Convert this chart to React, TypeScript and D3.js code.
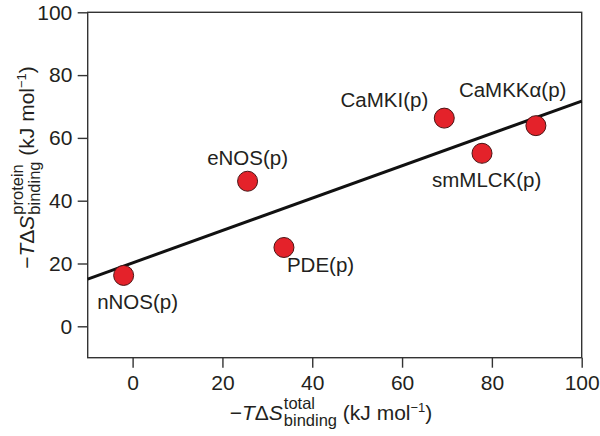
import React, { useEffect, useRef } from "react";
import * as d3 from "d3";

// ---- data ----
const compounds = ["nNOS(p)", "eNOS(p)", "PDE(p)", "CaMKI(p)", "smMLCK(p)", "CaMKK\u03b1(p)"];
const totalEntropy = [-2, 25.6, 33.7, 69.4, 77.8, 89.8];
const proteinEntropy = [16.2, 46.2, 25.1, 66.3, 55.1, 63.9];
const xTicks = [0, 20, 40, 60, 80, 100];
const yTicks = [0, 20, 40, 60, 80, 100];
const xDomain = [-10, 100];
const yDomain = [-10, 100];

// ---- layout (label placement relative to each point) ----
const labelLayout: Record<string, { anchor: string; dx: number; dy: number }> = {
  "nNOS(p)": { anchor: "start", dx: -26.5, dy: 33.3 },
  "eNOS(p)": { anchor: "middle", dx: 0, dy: -16 },
  "PDE(p)": { anchor: "start", dx: 3, dy: 25 },
  "CaMKI(p)": { anchor: "end", dx: -16, dy: -11 },
  "smMLCK(p)": { anchor: "start", dx: -50, dy: 34 },
  "CaMKK\u03b1(p)": { anchor: "start", dx: -77, dy: -28.7 },
};

const W = 600;
const H = 436;
const FONT = "'Liberation Sans', Arial, Helvetica, sans-serif";
const INK = "#231f20";

export default function App() {
  const ref = useRef<SVGSVGElement>(null);

  useEffect(() => {
    const svg = d3.select(ref.current);
    svg.selectAll("*").remove();

    const x = d3.scaleLinear().domain(xDomain).range([87.7, 581.7]);
    const y = d3.scaleLinear().domain(yDomain).range([357.7, 12.3]);

    // frame
    svg
      .append("rect")
      .attr("x", x(xDomain[0]))
      .attr("y", y(yDomain[1]))
      .attr("width", x(xDomain[1]) - x(xDomain[0]))
      .attr("height", y(yDomain[0]) - y(yDomain[1]))
      .attr("fill", "none")
      .attr("stroke", "#333")
      .attr("stroke-width", 1.4);

    // axes
    const gx = svg
      .append("g")
      .attr("transform", `translate(0,${y(yDomain[0])})`)
      .call(d3.axisBottom(x).tickValues(xTicks).tickSize(10).tickPadding(7.1).tickFormat(d3.format("d")));
    const gy = svg
      .append("g")
      .attr("transform", `translate(${x(xDomain[0])},0)`)
      .call(d3.axisLeft(y).tickValues(yTicks).tickSize(10).tickPadding(5.4).tickFormat(d3.format("d")));
    [gx, gy].forEach((g) => {
      g.select(".domain").remove();
      g.selectAll(".tick line").attr("stroke", "#333").attr("stroke-width", 1.4);
      g.selectAll(".tick text")
        .attr("fill", INK)
        .style("font-family", FONT)
        .style("font-size", "21px");
    });

    // least-squares fit line
    const n = totalEntropy.length;
    const mx = d3.mean(totalEntropy) as number;
    const my = d3.mean(proteinEntropy) as number;
    let sxy = 0;
    let sxx = 0;
    for (let i = 0; i < n; i++) {
      sxy += (totalEntropy[i] - mx) * (proteinEntropy[i] - my);
      sxx += (totalEntropy[i] - mx) ** 2;
    }
    const slope = sxy / sxx;
    const intercept = my - slope * mx;
    const fit = xDomain.map((v) => [v, intercept + slope * v] as [number, number]);
    svg
      .append("path")
      .attr(
        "d",
        d3
          .line<[number, number]>()
          .x((d) => x(d[0]))
          .y((d) => y(d[1]))(fit)
      )
      .attr("stroke", "#111")
      .attr("stroke-width", 3)
      .attr("fill", "none");

    // points
    const pts = compounds.map((c, i) => ({ c, xv: totalEntropy[i], yv: proteinEntropy[i] }));
    svg
      .append("g")
      .selectAll("circle")
      .data(pts)
      .join("circle")
      .attr("cx", (d) => x(d.xv))
      .attr("cy", (d) => y(d.yv))
      .attr("r", 10)
      .attr("fill", "#e4222a")
      .attr("stroke", "#4a1414")
      .attr("stroke-width", 1);

    // labels
    svg
      .append("g")
      .selectAll("text")
      .data(pts)
      .join("text")
      .attr("x", (d) => x(d.xv) + labelLayout[d.c].dx)
      .attr("y", (d) => y(d.yv) + labelLayout[d.c].dy)
      .attr("text-anchor", (d) => labelLayout[d.c].anchor)
      .attr("fill", INK)
      .style("font-family", FONT)
      .style("font-size", "20.5px")
      .text((d) => d.c);

    // axis titles
    const drawTitle = (g: any, sup: string, sub: string) => {
      const main = g
        .append("text")
        .attr("x", 0)
        .attr("y", 0)
        .attr("fill", INK)
        .style("font-family", FONT)
        .style("font-size", "21px");
      main.append("tspan").text("\u2212");
      main.append("tspan").style("font-style", "italic").text("T");
      main.append("tspan").text("\u0394");
      main.append("tspan").style("font-style", "italic").text("S");
      const w = (main.node() as SVGTextElement).getComputedTextLength() + 1;
      const mk = (txt: string, dy: number) =>
        g
          .append("text")
          .attr("x", w)
          .attr("y", dy)
          .attr("fill", INK)
          .style("font-family", FONT)
          .style("font-size", "16.5px")
          .text(txt);
      const s1 = mk(sup, -10.7);
      const s2 = mk(sub, 6);
      const w2 = Math.max(
        (s1.node() as SVGTextElement).getComputedTextLength(),
        (s2.node() as SVGTextElement).getComputedTextLength()
      );
      const u = g
        .append("text")
        .attr("x", w + w2 + 5.8)
        .attr("y", 0)
        .attr("fill", INK)
        .style("font-family", FONT)
        .style("font-size", "21px");
      u.append("tspan").text("(kJ mol");
      u.append("tspan").attr("dy", -7.6).style("font-size", "13px").text("\u22121");
      u.append("tspan").attr("dy", 7.6).text(")");
      const total = w + w2 + 5.8 + (u.node() as SVGTextElement).getComputedTextLength();
      return total;
    };

    const xt = svg.append("g");
    const xw = drawTitle(xt, "total", "binding");
    xt.attr("transform", `translate(${331 - xw / 2},419.5)`);

    const yt = svg.append("g");
    const yw = drawTitle(yt, "protein", "binding");
    yt.attr("transform", `translate(33.5,${167.5 + yw / 2}) rotate(-90)`);
  }, []);

  return (
    <svg
      ref={ref}
      width={W}
      height={H}
      viewBox={`0 0 ${W} ${H}`}
      style={{ position: "absolute", left: 0, top: 0, background: "#fff" }}
    />
  );
}
